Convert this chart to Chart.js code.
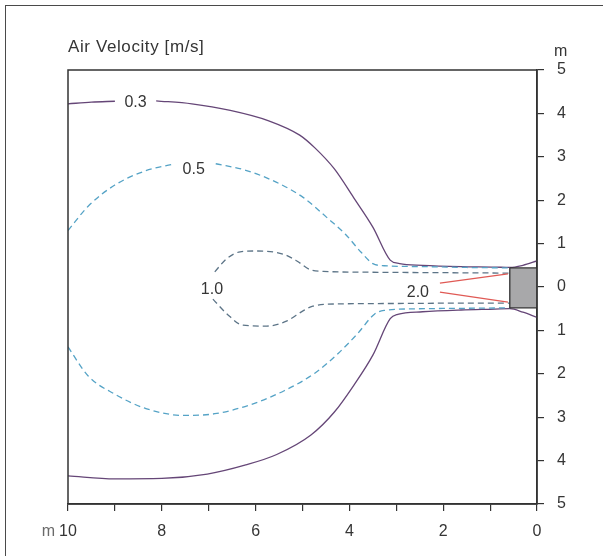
<!DOCTYPE html>
<html>
<head>
<meta charset="utf-8">
<script src="https://cdn.jsdelivr.net/npm/chart.js@4/dist/chart.umd.min.js"></script>
<style>
  html, body { margin: 0; padding: 0; background: #fff; }
  #wrap { position: relative; width: 603px; height: 556px; overflow: hidden; }
  #frame { position: absolute; left: 5px; top: 5px; width: 700px; height: 700px; border: 1.5px solid #4a4a4a; }
  #chart { position: absolute; left: 0; top: 0; }
</style>
</head>
<body>
<div id="wrap">
  <div id="frame"></div>
  <canvas id="chart" width="603" height="556"></canvas>
</div>
<script>
// distance from outlet (m) and lateral offset (m)
const c03TopAX = [10, 9.5, 9.0]
const c03TopAY = [4.22, 4.26, 4.28]
const c03TopBX = [8.12, 7.36, 6.54, 5.72, 5.06, 4.73, 4.32, 3.91, 3.5, 3.13, 2.93, 2.44, 1.62, 0.9, 0.58, 0.3, 0]
const c03TopBY = [4.29, 4.22, 4.07, 3.83, 3.5, 3.2, 2.72, 2.06, 1.38, 0.62, 0.54, 0.5, 0.47, 0.46, 0.45, 0.5, 0.6]
const c03BotX = [10, 9.0, 8.0, 7.03, 6.21, 5.55, 4.82, 4.32, 3.91, 3.5, 3.13, 2.97, 2.44, 1.62, 0.9, 0.58, 0.3, 0]
const c03BotY = [-4.35, -4.42, -4.41, -4.31, -4.1, -3.86, -3.41, -2.88, -2.27, -1.57, -0.73, -0.63, -0.57, -0.53, -0.51, -0.5, -0.58, -0.7]

const c05TopAX = [10, 9.57, 9.0, 8.34, 7.8]
const c05TopAY = [1.3, 1.86, 2.35, 2.68, 2.82]
const c05TopBX = [6.85, 6.21, 5.55, 4.98, 4.49, 4.08, 3.75, 3.5, 3.26, 2.44, 1.5, 0.58]
const c05TopBY = [2.84, 2.69, 2.41, 2.06, 1.61, 1.21, 0.8, 0.54, 0.49, 0.47, 0.45, 0.44]
const c05BotX = [10, 9.57, 9.0, 8.34, 7.52, 6.87, 6.13, 5.39, 4.73, 4.24, 3.83, 3.46, 3.26, 2.4, 1.5, 0.58]
const c05BotY = [-1.38, -2.05, -2.47, -2.8, -2.96, -2.92, -2.72, -2.39, -1.98, -1.53, -1.08, -0.62, -0.54, -0.5, -0.49, -0.48]

const c10TopX = [6.87, 6.62, 6.33, 5.97, 5.42, 5.12, 4.84, 4.56, 3.5, 2.0, 0.58]
const c10TopY = [0.35, 0.65, 0.81, 0.83, 0.76, 0.6, 0.4, 0.36, 0.34, 0.33, 0.32]
const c10BotX = [6.91, 6.61, 6.27, 5.76, 5.33, 4.99, 4.78, 4.26, 3.0, 1.5, 0.58]
const c10BotY = [-0.28, -0.62, -0.88, -0.9, -0.78, -0.55, -0.44, -0.39, -0.38, -0.37, -0.37]

const c20TopX = [2.07, 0.62]
const c20TopY = [0.09, 0.3]
const c20BotX = [2.07, 0.62]
const c20BotY = [-0.12, -0.35]

// outlet unit outline
const unitX = [0.58, 0, 0, 0.58, 0.58]
const unitY = [0.44, 0.44, -0.48, -0.48, 0.44]

// contour labels
const labelText = ['0.3', '0.5', '1.0', '2.0']
const labelX = [8.56, 7.32, 6.93, 2.54]
const labelY = [4.26, 2.7, -0.05, -0.12]

const xTicks = [0, 1, 2, 3, 4, 5, 6, 7, 8, 9, 10]

const PURPLE = '#654677'
const TEAL = '#55a3c6'
const SLATE = '#5c7487'
const RED = '#e05a55'
const INK = '#333333'
const TEXT = '#353535'
const FONT = "'Liberation Sans', Arial, sans-serif"

const pts = (xs, ys) => xs.map((x, i) => ({ x, y: ys[i] }))

function curve(xs, ys, color, dashed) {
  return {
    data: pts(xs, ys),
    showLine: true,
    borderColor: color,
    borderWidth: 1.3,
    borderDash: dashed ? [6, 4] : [],
    pointRadius: 0,
    cubicInterpolationMode: 'monotone',
    fill: false,
  }
}

// plot frame, titles and contour labels
const decorations = {
  id: 'decorations',
  afterDatasetsDraw(chart) {
    const { ctx, chartArea: a, scales } = chart
    ctx.save()
    ctx.strokeStyle = INK
    ctx.lineWidth = 1.5
    ctx.strokeRect(a.left, a.top, a.right - a.left, a.bottom - a.top)

    ctx.font = `16px ${FONT}`
    ctx.fillStyle = TEXT
    ctx.textAlign = 'center'
    ctx.textBaseline = 'middle'
    labelText.forEach((t, i) => {
      ctx.fillText(t, scales.x.getPixelForValue(labelX[i]), scales.y.getPixelForValue(labelY[i]))
    })

    ctx.textAlign = 'left'
    ctx.font = `16px ${FONT}`
    ctx.fillText('m', a.right + 17, a.top - 18)
    ctx.fillStyle = '#6a6a6a'
    ctx.textAlign = 'right'
    ctx.fillText('m', a.left - 13, a.bottom + 28)

    ctx.fillStyle = TEXT
    ctx.textAlign = 'left'
    ctx.font = `17px ${FONT}`
    ctx.letterSpacing = '0.6px'
    ctx.fillText('Air Velocity [m/s]', a.left, a.top - 23)
    ctx.restore()
  }
}

const axisGrid = {
  display: true,
  drawOnChartArea: false,
  drawTicks: true,
  tickLength: 7,
  color: INK,
  lineWidth: 1.2,
}

new Chart(document.getElementById('chart'), {
  type: 'scatter',
  data: {
    datasets: [
      {
        data: pts(unitX, unitY),
        showLine: true,
        borderColor: INK,
        borderWidth: 1.3,
        backgroundColor: '#a8a8aa',
        fill: 'shape',
        pointRadius: 0,
        tension: 0,
      },
      curve(c20TopX, c20TopY, RED, false),
      curve(c20BotX, c20BotY, RED, false),
      curve(c10TopX, c10TopY, SLATE, true),
      curve(c10BotX, c10BotY, SLATE, true),
      curve(c05TopAX, c05TopAY, TEAL, true),
      curve(c05TopBX, c05TopBY, TEAL, true),
      curve(c05BotX, c05BotY, TEAL, true),
      curve(c03TopAX, c03TopAY, PURPLE, false),
      curve(c03TopBX, c03TopBY, PURPLE, false),
      curve(c03BotX, c03BotY, PURPLE, false),
    ]
  },
  options: {
    responsive: false,
    animation: false,
    devicePixelRatio: 1,
    layout: { padding: { left: 68, top: 70, right: 20, bottom: 8 } },
    plugins: {
      legend: { display: false },
      tooltip: { enabled: false },
    },
    scales: {
      x: {
        type: 'linear',
        min: 0,
        max: 10,
        reverse: true,
        afterBuildTicks: s => { s.ticks = xTicks.map(v => ({ value: v })) },
        afterFit: s => { s.height = 44 },
        grid: axisGrid,
        border: { display: true, color: INK, width: 1.5 },
        ticks: {
          autoSkip: false,
          maxRotation: 0,
          padding: 11,
          color: TEXT,
          font: { family: FONT, size: 16 },
          callback: v => (v % 2 === 0 ? v : ''),
        }
      },
      y: {
        type: 'linear',
        position: 'right',
        min: -5,
        max: 5,
        afterFit: s => { s.width = 46 },
        grid: axisGrid,
        border: { display: true, color: INK, width: 1.5 },
        ticks: {
          stepSize: 1,
          autoSkip: false,
          padding: 13,
          color: TEXT,
          font: { family: FONT, size: 16 },
          callback: v => Math.abs(v),
        }
      }
    }
  },
  plugins: [decorations]
})
</script>
</body>
</html>
